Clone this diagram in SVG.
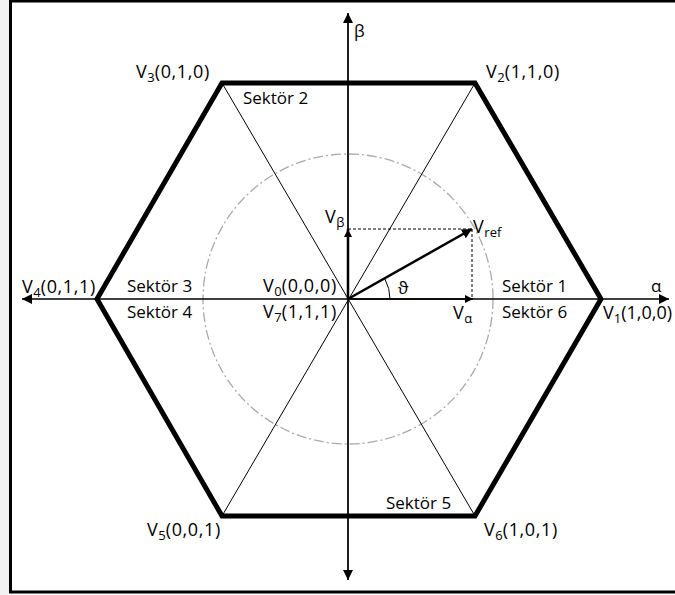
<svg xmlns="http://www.w3.org/2000/svg" width="675" height="595" viewBox="0 0 675 595">
<defs>
<marker id="ah" viewBox="0 0 10 10" refX="10" refY="5" markerWidth="10" markerHeight="10" markerUnits="userSpaceOnUse" orient="auto">
<path d="M0,0 L10,5 L0,10 z" fill="#000"/>
</marker>
<marker id="ahs" viewBox="0 0 10 10" refX="10" refY="5" markerWidth="8" markerHeight="8" markerUnits="userSpaceOnUse" orient="auto">
<path d="M0,0 L10,5 L0,10 z" fill="#000"/>
</marker>
</defs>
<style>
text{font-family:"Open Sans","Liberation Sans",sans-serif;font-size:17px;fill:#000}
.v{font-size:18px;letter-spacing:0.6px}
.sub{font-size:13px;letter-spacing:0}
.thin{stroke:#000;stroke-width:1;fill:none}
.axis{stroke:#000;stroke-width:1.3;fill:none}
.dash{stroke:#000;stroke-width:1;stroke-dasharray:3,2;fill:none}
</style>
<rect x="0" y="0" width="9" height="595" fill="#f2f2f2"/>
<rect x="10.5" y="1" width="680" height="591" fill="#fff" stroke="#000" stroke-width="3"/>
<g id="circle">
<circle cx="348" cy="299" r="145" fill="none" stroke="#aaa" stroke-width="1.3" stroke-dasharray="10,3,2,3"/>
</g>
<g id="hexagon">
<polygon points="601,299 475,83 222,83 97,299 222,516 475,516" fill="none" stroke="#000" stroke-width="5" stroke-linejoin="miter"/>
</g>
<g id="connectors">
<line class="thin" x1="222" y1="83" x2="475" y2="516"/>
<line class="thin" x1="475" y1="83" x2="222" y2="516"/>
<line class="axis" x1="348" y1="580" x2="348" y2="13" marker-end="url(#ah)"/>
<line class="axis" x1="348" y1="13" x2="348" y2="580" marker-end="url(#ah)"/>
<line class="axis" x1="348" y1="299" x2="669" y2="299" marker-end="url(#ah)"/>
<line class="axis" x1="348" y1="299" x2="22" y2="299" marker-end="url(#ah)"/>
<line class="dash" x1="348" y1="229" x2="472" y2="229"/>
<line class="dash" x1="472" y1="229" x2="472" y2="299"/>
<line stroke="#000" stroke-width="2.5" x1="348" y1="299" x2="348" y2="229" marker-end="url(#ahs)"/>
<line stroke="#000" stroke-width="1.3" x1="348" y1="299" x2="473" y2="299" marker-end="url(#ahs)"/>
<line stroke="#000" stroke-width="2.5" x1="348" y1="299" x2="472" y2="229" marker-end="url(#ah)"/>
<path class="thin" d="M390,299 A42,42 0 0 0 384.7,278.6"/>
</g>
<g id="labels">
<text x="354" y="37">β</text>
<text class="v" x="136" y="78">V<tspan class="sub" dy="4">3</tspan><tspan dy="-4">(0,1,0)</tspan></text>
<text class="v" x="486" y="78">V<tspan class="sub" dy="4">2</tspan><tspan dy="-4">(1,1,0)</tspan></text>
<text x="243" y="104">Sektör 2</text>
<text class="v" x="325" y="223">V<tspan class="sub" dy="4">β</tspan></text>
<text class="v" x="473" y="233">V<tspan class="sub" dy="4">ref</tspan></text>
<text class="v" x="22" y="293">V<tspan class="sub" dy="4">4</tspan><tspan dy="-4">(0,1,1)</tspan></text>
<text x="127" y="292">Sektör 3</text>
<text x="127" y="318">Sektör 4</text>
<text class="v" x="263" y="292">V<tspan class="sub" dy="4">0</tspan><tspan dy="-4">(0,0,0)</tspan></text>
<text class="v" x="263" y="318">V<tspan class="sub" dy="4">7</tspan><tspan dy="-4">(1,1,1)</tspan></text>
<text x="398" y="294">ϑ</text>
<text x="502" y="292">Sektör 1</text>
<text x="651" y="292">α</text>
<text class="v" x="453" y="319">V<tspan class="sub" dy="4">α</tspan></text>
<text x="502" y="318">Sektör 6</text>
<text class="v" x="603" y="319" style="letter-spacing:0">V<tspan class="sub" dy="4">1</tspan><tspan dy="-4">(1,0,0)</tspan></text>
<text x="386" y="509">Sektör 5</text>
<text class="v" x="147" y="536">V<tspan class="sub" dy="4">5</tspan><tspan dy="-4">(0,0,1)</tspan></text>
<text class="v" x="484" y="536">V<tspan class="sub" dy="4">6</tspan><tspan dy="-4">(1,0,1)</tspan></text>
</g>
</svg>
